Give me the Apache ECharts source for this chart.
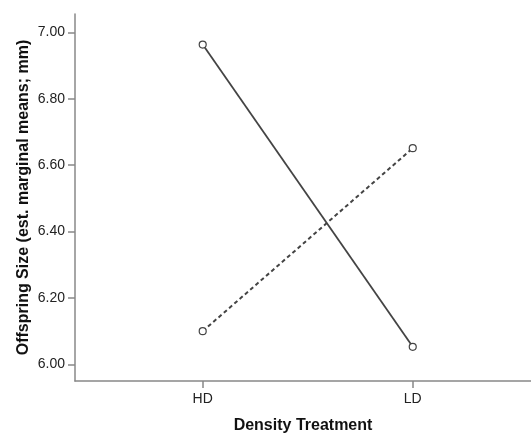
<!DOCTYPE html>
<html><head><meta charset="utf-8">
<script src="https://cdn.jsdelivr.net/npm/echarts@6/dist/echarts.min.js"></script>
<style>html,body{margin:0;padding:0;background:#fff}#c{width:531px;height:434px}</style>
</head><body><div id="c"></div>
<script>
const categories = ['HD', 'LD'];
const solidSeries = [6.963, 6.053];
const dashedSeries = [6.100, 6.651];
const yTicks = [6.0, 6.2, 6.4, 6.6, 6.8, 7.0];
const xPos = [1, 2];

const chart = echarts.init(document.getElementById('c'));
const font = '"Liberation Sans", Arial, sans-serif';
chart.setOption({
  animation: false,
  grid: {left: 75, top: 14, right: 0, bottom: 53, outerBoundsMode: 'none', containLabel: false},
  xAxis: {
    type: 'value', min: 0.392, max: 2.563,
    name: 'Density Treatment', nameLocation: 'middle', nameGap: 37, nameMoveOverlap: false,
    nameTextStyle: {fontFamily: font, fontSize: 16, fontWeight: 'bold', color: '#111'},
    axisLine: {show: true, lineStyle: {color: '#888', width: 1.5}},
    axisTick: {show: true, length: 7, customValues: xPos, lineStyle: {color: '#888', width: 1.5}},
    axisLabel: {customValues: xPos, formatter: v => categories[Math.round(v) - 1] || '', fontFamily: font, fontSize: 14, color: '#222', margin: 11},
    splitLine: {show: false}
  },
  yAxis: {
    type: 'value', min: 5.95, max: 7.055,
    name: 'Offspring Size (est. marginal means; mm)', nameLocation: 'middle', nameGap: 43, nameMoveOverlap: false,
    nameTextStyle: {fontFamily: font, fontSize: 16, fontWeight: 'bold', color: '#111'},
    axisLine: {show: true, lineStyle: {color: '#888', width: 1.5}},
    axisTick: {show: true, length: 7, customValues: yTicks, lineStyle: {color: '#888', width: 1.5}},
    axisLabel: {customValues: yTicks, formatter: v => v.toFixed(2), fontFamily: font, fontSize: 14, color: '#222', margin: 10},
    splitLine: {show: false}
  },
  series: [
    {type: 'line', data: xPos.map((x, i) => [x, solidSeries[i]]), symbol: 'circle', symbolSize: 7,
     itemStyle: {color: '#fff', borderColor: '#444', borderWidth: 1.2},
     lineStyle: {color: '#444', width: 1.8}},
    {type: 'line', data: xPos.map((x, i) => [x, dashedSeries[i]]), symbol: 'circle', symbolSize: 7,
     itemStyle: {color: '#fff', borderColor: '#444', borderWidth: 1.2},
     lineStyle: {color: '#444', width: 2, type: [4, 3]}}
  ]
});
</script></body></html>
